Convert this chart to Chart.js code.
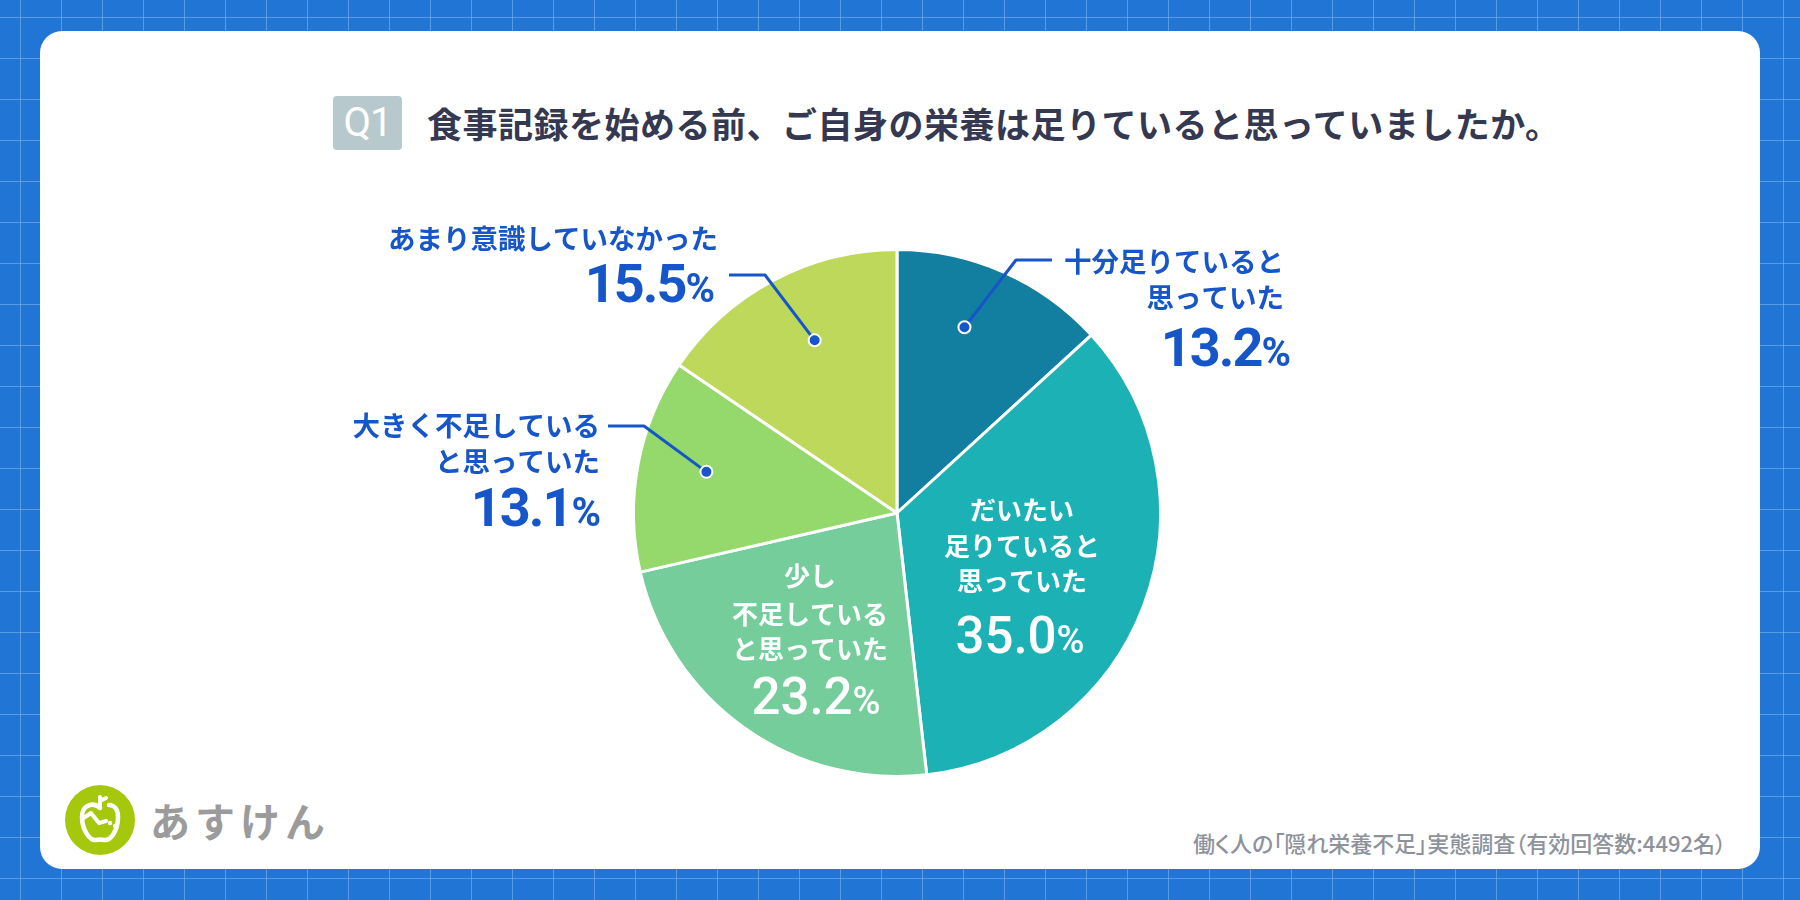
<!DOCTYPE html>
<html lang="ja">
<head>
<meta charset="utf-8">
<script src="https://cdn.jsdelivr.net/npm/chart.js@4.4.1/dist/chart.umd.min.js"></script>
<style>
html, body { margin: 0; padding: 0; }
body {
  width: 1800px; height: 900px; overflow: hidden; position: relative;
  background-color: #2175d5;
  background-image:
    linear-gradient(to right, rgba(125, 180, 240, .6) 1px, transparent 1px),
    linear-gradient(to bottom, rgba(125, 180, 240, .6) 1px, transparent 1px);
  background-size: 41px 41px;
  background-position: 20px 17px;
  font-family: "Noto Sans CJK JP", sans-serif;
}
.card { position: absolute; left: 40px; top: 31px; width: 1720px; height: 838px; background: #fff; border-radius: 22px; }
.q { position: absolute; left: 333px; top: 96px; width: 69px; height: 54px; background: #b8c9cd; border-radius: 4px;
  color: #fff; font: 400 40px Roboto, sans-serif; line-height: 54px; text-align: center; letter-spacing: -1px; }
.title { position: absolute; left: 427px; top: 98px; height: 50px; line-height: 50px; font-size: 35px; font-weight: 700;
  color: #343850; letter-spacing: .5px; white-space: nowrap; }
.source { position: absolute; right: 74px; top: 828px; height: 28px; line-height: 28px; font-size: 22px; font-weight: 500;
  color: #8d929b; white-space: nowrap; font-feature-settings: "palt"; }
.logo { position: absolute; left: 65px; top: 785px; width: 70px; height: 70px; }
.brand { position: absolute; left: 150px; top: 793px; height: 54px; line-height: 54px; font-size: 40px; font-weight: 700;
  color: #9b9b9b; letter-spacing: 5px; white-space: nowrap; }
#chart { position: absolute; left: 0; top: 0; }
</style>
</head>
<body>
<div class="card"></div>
<div class="q">Q1</div>
<div class="title">食事記録を始める前、ご自身の栄養は足りていると思っていましたか。</div>
<svg class="logo" viewBox="0 0 70 70">
  <circle cx="35" cy="35" r="35" fill="#a6c80c"/>
  <path d="M35 23 C29 17 17 19 17 32 C17 45 25 56 31 55 C33 54.5 37 54.5 39 55 C46 56 53 45 53 32 C53 24 49 20 44 20"
        fill="none" stroke="#fff" stroke-width="4.5" stroke-linecap="round"/>
  <path d="M35 23 L35 12 M35 16 L41 13" fill="none" stroke="#fff" stroke-width="4" stroke-linecap="round"/>
  <path d="M17 34 L26 28 L34 38 L41 36" fill="none" stroke="#fff" stroke-width="4" stroke-linecap="round" stroke-linejoin="round"/>
  <circle cx="45" cy="38" r="2.2" fill="#fff"/>
  <circle cx="50" cy="41" r="2.2" fill="#fff"/>
</svg>
<div class="brand">あすけん</div>
<div class="source">働く人の「隠れ栄養不足」実態調査（有効回答数:4492名）</div>
<canvas id="chart" width="1800" height="900"></canvas>
<script>
const categories = ['十分足りていると思っていた', 'だいたい足りていると思っていた', '少し不足していると思っていた', '大きく不足していると思っていた', 'あまり意識していなかった']
const labelLines = [
  ['十分足りていると', '思っていた'],
  ['だいたい', '足りていると', '思っていた'],
  ['少し', '不足している', 'と思っていた'],
  ['大きく不足している', 'と思っていた'],
  ['あまり意識していなかった']
]
const shares = [13.2, 35.0, 23.2, 13.1, 15.5]
const sliceColors = ['#127fa0', '#1bb1b5', '#74cd9a', '#95d86c', '#bed85c']

// where each label sits (outside ones get a leader line to a dot in the slice)
const labelLayout = [
  { inside: false, textX: 1284, lineY: [262, 298], numX: 1289, numBase: 366, dot: [0.42, 0.75], elbow: [1016, 260], end: [1052, 260] },
  { inside: true, textX: 1022, lineY: [510, 546, 581], numX: 1020, numBase: 653 },
  { inside: true, textX: 810, lineY: [576, 614, 649], numX: 816, numBase: 714 },
  { inside: false, textX: 600, lineY: [426, 462], numX: 599, numBase: 526, dot: [0.533, 0.74], elbow: [644, 426], end: [608, 426] },
  { inside: false, textX: 718, lineY: [239], numX: 713, numBase: 302, dot: [0.543, 0.726], elbow: [765, 275], end: [729, 275] }
]

const blue = '#1656c8'

const drawPercent = (ctx, value, x, base, align, size, weight, spacing, color) => {
  const num = value.toFixed(1)
  const pctSize = Math.round(size * 0.74)
  ctx.letterSpacing = spacing + 'px'
  ctx.font = `${weight} ${size}px Roboto`
  const wNum = ctx.measureText(num).width
  ctx.font = `${weight} ${pctSize}px Roboto`
  const wPct = ctx.measureText('%').width
  const total = wNum + wPct
  const left = align === 'right' ? x - total : x - total / 2
  ctx.fillStyle = color
  ctx.textAlign = 'left'
  ctx.textBaseline = 'alphabetic'
  ctx.font = `${weight} ${size}px Roboto`
  ctx.fillText(num, left, base)
  ctx.font = `${weight} ${pctSize}px Roboto`
  ctx.fillText('%', left + wNum, base)
  ctx.letterSpacing = '0px'
}

const sliceLabels = {
  id: 'sliceLabels',
  afterDatasetsDraw(chart) {
    const ctx = chart.ctx
    const arcs = chart.getDatasetMeta(0).data
    ctx.save()
    arcs.forEach((arc, i) => {
      const spec = labelLayout[i]
      const p = arc.getProps(['x', 'y', 'startAngle', 'endAngle', 'outerRadius'], true)
      if (spec.inside) {
        ctx.fillStyle = '#fff'
        ctx.font = '700 26px "Noto Sans CJK JP"'
        ctx.textAlign = 'center'
        ctx.textBaseline = 'middle'
        labelLines[i].forEach((line, k) => ctx.fillText(line, spec.textX, spec.lineY[k]))
        drawPercent(ctx, shares[i], spec.numX, spec.numBase, 'center', 51, 500, 0, '#fff')
        return
      }
      const a = p.startAngle + (p.endAngle - p.startAngle) * spec.dot[0]
      const r = p.outerRadius * spec.dot[1]
      const dx = p.x + Math.cos(a) * r
      const dy = p.y + Math.sin(a) * r

      ctx.strokeStyle = blue
      ctx.lineWidth = 3
      ctx.lineJoin = 'round'
      ctx.beginPath()
      ctx.moveTo(dx, dy)
      ctx.lineTo(spec.elbow[0], spec.elbow[1])
      ctx.lineTo(spec.end[0], spec.end[1])
      ctx.stroke()

      ctx.beginPath()
      ctx.arc(dx, dy, 6, 0, Math.PI * 2)
      ctx.fillStyle = blue
      ctx.fill()
      ctx.lineWidth = 2
      ctx.strokeStyle = '#fff'
      ctx.stroke()

      ctx.fillStyle = blue
      ctx.font = '700 27.5px "Noto Sans CJK JP"'
      ctx.textAlign = 'right'
      ctx.textBaseline = 'middle'
      labelLines[i].forEach((line, k) => ctx.fillText(line, spec.textX, spec.lineY[k]))
      drawPercent(ctx, shares[i], spec.numX, spec.numBase, 'right', 54, 700, -2, blue)
    })
    ctx.restore()
  }
}

new Chart(document.getElementById('chart').getContext('2d'), {
  type: 'pie',
  data: {
    labels: categories,
    datasets: [{
      data: shares,
      backgroundColor: sliceColors,
      borderColor: '#fff',
      borderWidth: 3
    }]
  },
  options: {
    responsive: false,
    animation: false,
    layout: { padding: { left: 632, right: 638, top: 248, bottom: 122 } },
    plugins: {
      legend: { display: false },
      tooltip: { enabled: false }
    }
  },
  plugins: [sliceLabels]
})
</script>
</body>
</html>
